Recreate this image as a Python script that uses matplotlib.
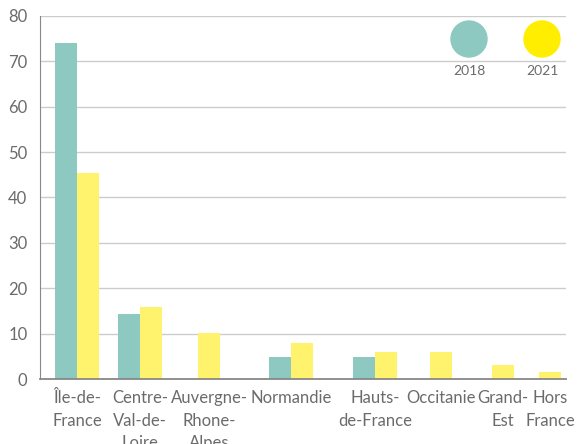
import numpy as np
import matplotlib.pyplot as plt
from matplotlib.patches import Ellipse

regions = ["Île-de-\nFrance", "Centre-\nVal-de-\nLoire", "Auvergne-\nRhone-\nAlpes", "Normandie",
           "Hauts-\nde-France", "Occitanie", "Grand-\nEst", "Hors\nFrance"]
v2018 = [74, 14.3, np.nan, 4.8, 4.8, np.nan, np.nan, np.nan]
v2021 = [45.5, 15.9, 10.1, 7.9, 6, 6, 3.1, 1.5]
years = ["2018", "2021"]

c2018 = "#8ec9c1"
c2021 = "#fff36e"
legend_colors = ["#8ec9c1", "#ffee00"]
grey = "#6b6b6b"

plt.rcParams['font.family'] = ['Lato', 'DejaVu Sans']

fig = plt.figure(figsize=(5.78, 4.44), dpi=100)
ax = fig.add_axes([40 / 578, 65 / 444, 526 / 578, 363 / 444])

# group centres (pixel units from the left of the axes), uneven like the original
centers = np.array([37, 100, 169, 251, 335, 401, 463, 510])
w = 22
for i, (a, b) in enumerate(zip(v2018, v2021)):
    if np.isnan(a):
        ax.bar(centers[i], b, width=w, color=c2021, zorder=2)
    else:
        ax.bar(centers[i] - w / 2, a, width=w, color=c2018, zorder=2)
        ax.bar(centers[i] + w / 2, b, width=w, color=c2021, zorder=2)

ax.set_xlim(0, 526)
ax.set_ylim(0, 80)
ax.set_yticks(range(0, 81, 10))
ax.yaxis.grid(True, color="#cccccc", linewidth=1)
ax.set_axisbelow(True)
ax.set_xticks(centers)
ax.set_xticklabels(regions, linespacing=1.5)
ax.tick_params(axis="both", length=0, colors=grey, labelsize=12)
ax.tick_params(axis="x", pad=8)
ax.tick_params(axis="y", pad=9)
for s in ["top", "right"]:
    ax.spines[s].set_visible(False)
ax.spines["left"].set_color("#888888")
ax.spines["bottom"].set_color("#888888")
ax.spines["bottom"].set_linewidth(1.3)

# legend circles
for x, col, lab in zip([469, 542], legend_colors, years):
    fig.add_artist(Ellipse((x / 578, 1 - 39 / 444), 36 / 578, 36 / 444, color=col,
                           transform=fig.transFigure))
    fig.text(x / 578, 1 - 71 / 444, lab, ha="center", va="center", color=grey, fontsize=10)

fig.savefig("out.png", dpi=100)
